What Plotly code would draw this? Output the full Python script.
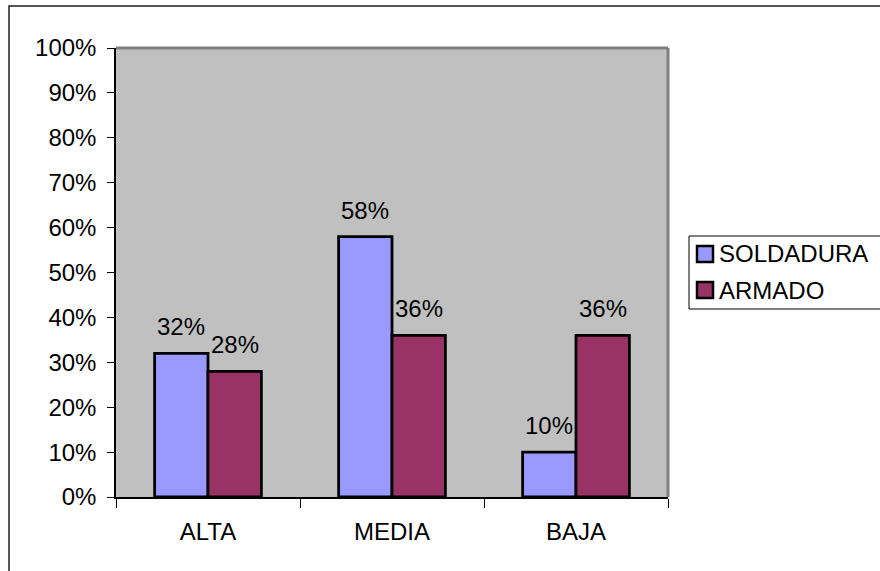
import plotly.graph_objects as go

# Chart data
categories = ["ALTA", "MEDIA", "BAJA"]
series_names = ["SOLDADURA", "ARMADO"]
soldadura = [0.32, 0.58, 0.10]
armado = [0.28, 0.36, 0.36]
series_values = [soldadura, armado]
series_colors = ["#9999FF", "#993366"]
y_ticks = [i / 10 for i in range(11)]

W, H = 880, 571
ML, MR, MT, MB = 116, 212, 48, 74
PW, PH = W - ML - MR, H - MT - MB
FONT = "Liberation Sans, Arial, sans-serif"


def px_x(p):
    return (p - ML) / PW


def px_y(p):
    return (H - MB - p) / PH


fig = go.Figure()
for name, vals, col in zip(series_names, series_values, series_colors):
    fig.add_trace(go.Bar(
        x=categories, y=vals, name=name,
        marker=dict(color=col, line=dict(color="black", width=2.8)),
        showlegend=False,
    ))

# value labels above each bar
bar_px = PW / len(categories) * (1 - 0.42) / len(series_names)
annotations = []
for k, vals in enumerate(series_values):
    offset = (k - (len(series_names) - 1) / 2) * bar_px
    for c, v in zip(categories, vals):
        annotations.append(dict(
            x=c, y=v, xref="x", yref="y", text=f"{round(v * 100)}%",
            showarrow=False, xshift=offset, yshift=11, yanchor="bottom",
            font=dict(family=FONT, size=24, color="black"),
        ))

shapes = [
    # outer chart border
    dict(type="rect", xref="paper", yref="paper",
         x0=px_x(9), x1=px_x(W + 10), y0=px_y(H + 10), y1=px_y(6),
         line=dict(color="#222222", width=1.5), fillcolor="rgba(0,0,0,0)", layer="below"),
    # plot area frame
    dict(type="line", xref="paper", yref="paper", x0=0, x1=1, y0=1, y1=1,
         line=dict(color="#808080", width=3)),
    dict(type="line", xref="paper", yref="paper", x0=1, x1=1, y0=0, y1=1,
         line=dict(color="#808080", width=3)),
]

# legend box
lx0, lx1, ly0, ly1 = 689, W + 10, 236, 309
shapes.append(dict(type="rect", xref="paper", yref="paper",
                   x0=px_x(lx0), x1=px_x(lx1), y0=px_y(ly1), y1=px_y(ly0),
                   line=dict(color="black", width=1), fillcolor="white"))
row_centers = [254, 290]
for name, col, cy in zip(series_names, series_colors, row_centers):
    shapes.append(dict(type="rect", xref="paper", yref="paper",
                       x0=px_x(697), x1=px_x(713), y0=px_y(cy + 8), y1=px_y(cy - 8),
                       line=dict(color="black", width=2.5), fillcolor=col))
    annotations.append(dict(
        x=px_x(717), y=px_y(cy), xref="paper", yref="paper", text=name,
        showarrow=False, xanchor="left", yanchor="middle",
        font=dict(family=FONT, size=24, color="black"),
    ))

fig.update_layout(
    width=W, height=H,
    margin=dict(l=ML, r=MR, t=MT, b=MB, autoexpand=False),
    paper_bgcolor="white", plot_bgcolor="#C0C0C0",
    barmode="group", bargap=0.42, bargroupgap=0,
    font=dict(family=FONT, size=24, color="black"),
    shapes=shapes, annotations=annotations,
    xaxis=dict(
        type="category", tickson="boundaries", ticks="outside", ticklen=9,
        tickcolor="black", tickwidth=1, showline=True, linecolor="black",
        linewidth=1.5, showgrid=False, ticklabelstandoff=12,
        tickfont=dict(family=FONT, size=24),
    ),
    yaxis=dict(
        range=[0, 1], tickvals=y_ticks, tickformat=".0%", ticks="outside",
        ticklen=7, tickcolor="black", showline=True, linecolor="black",
        linewidth=1.5, showgrid=False, zeroline=False,
        ticklabelstandoff=6, tickfont=dict(family=FONT, size=24),
    ),
)

fig.write_html("out.html")
